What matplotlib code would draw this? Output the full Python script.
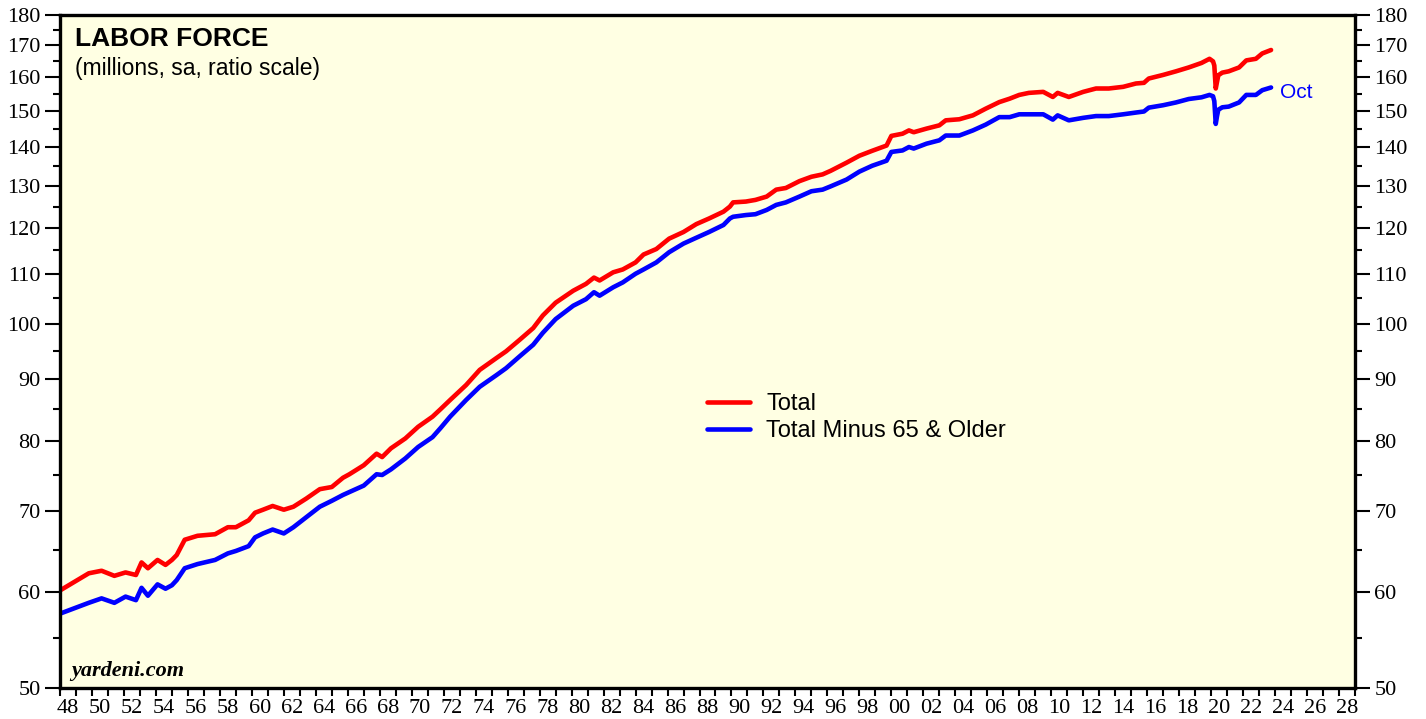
import matplotlib
matplotlib.use("Agg")
import matplotlib.pyplot as plt
from matplotlib.ticker import NullFormatter, FixedLocator

# ---- data ----
dates = [1948.0, 1949.8, 1950.6, 1951.4, 1952.1, 1952.75, 1953.1, 1953.5, 1954.1, 1954.6,
         1955.0, 1955.3, 1955.8, 1956.6, 1957.7, 1958.5, 1959.0, 1959.8, 1960.2, 1960.7,
         1961.3, 1962.0, 1962.6, 1963.4, 1964.25, 1965.0, 1965.7, 1966.1, 1967.0, 1967.8,
         1968.15, 1968.7, 1969.6, 1970.4, 1971.3, 1971.8, 1972.4, 1973.4, 1974.25, 1975.3,
         1975.9, 1976.75, 1977.6, 1978.2, 1979.0, 1980.1, 1980.9, 1981.4, 1981.75, 1982.6,
         1983.2, 1984.0, 1984.5, 1985.3, 1986.1, 1987.0, 1987.8, 1988.6, 1989.5, 1989.9,
         1990.1, 1990.9, 1991.5, 1992.2, 1992.8, 1993.4, 1994.25, 1995.0, 1995.7, 1996.2,
         1997.2, 1998.0, 1998.8, 1999.7, 2000.0, 2000.7, 2001.1, 2001.4, 2002.2, 2003.0,
         2003.4, 2004.25, 2005.1, 2005.9, 2006.75, 2007.4, 2008.0, 2008.6, 2009.5, 2010.1,
         2010.4, 2011.1, 2012.0, 2012.8, 2013.6, 2014.5, 2015.3, 2015.8, 2016.1, 2017.0,
         2017.8, 2018.6, 2019.4, 2019.9, 2020.12, 2020.2, 2020.29, 2020.37, 2020.45, 2020.7,
         2021.1, 2021.75, 2022.2, 2022.8, 2023.2, 2023.75]

total = [60.2, 62.2, 62.5, 61.9, 62.3, 62.0, 63.5, 62.8, 63.8, 63.2,
         63.8, 64.4, 66.3, 66.8, 67.0, 67.9, 67.9, 68.8, 69.8, 70.2,
         70.7, 70.2, 70.6, 71.7, 73.0, 73.3, 74.6, 75.1, 76.4, 78.1,
         77.6, 78.9, 80.4, 82.2, 83.8, 85.0, 86.5, 89.0, 91.6, 93.7,
         94.9, 97.0, 99.2, 101.6, 104.1, 106.5, 107.9, 109.2, 108.6, 110.3,
         110.9, 112.4, 114.1, 115.3, 117.6, 119.1, 120.9, 122.2, 123.8, 125.0,
         126.0, 126.2, 126.6, 127.4, 129.1, 129.5, 131.2, 132.3, 132.9, 133.8,
         135.9, 137.7, 139.0, 140.4, 143.0, 143.6, 144.5, 144.0, 145.0, 145.9,
         147.3, 147.6, 148.7, 150.6, 152.5, 153.5, 154.6, 155.2, 155.5, 154.0,
         155.2, 154.0, 155.5, 156.5, 156.5, 157.0, 158.0, 158.2, 159.5, 160.6,
         161.7, 162.9, 164.3, 165.6, 164.8, 163.5, 156.5, 158.5, 160.5, 161.3,
         161.7, 162.9, 165.1, 165.6, 167.3, 168.4]

total_minus_65 = [57.6, 58.8, 59.3, 58.8, 59.5, 59.1, 60.5, 59.6, 60.9, 60.4,
                  60.8, 61.4, 62.8, 63.3, 63.8, 64.6, 64.9, 65.5, 66.6, 67.1,
                  67.6, 67.1, 67.9, 69.2, 70.6, 71.4, 72.2, 72.6, 73.5, 75.1,
                  75.0, 75.8, 77.4, 79.1, 80.6, 82.0, 83.8, 86.5, 88.7, 90.7,
                  91.9, 94.0, 96.1, 98.3, 100.9, 103.5, 104.8, 106.2, 105.5, 107.2,
                  108.2, 110.0, 110.9, 112.4, 114.6, 116.5, 117.8, 119.1, 120.7, 122.2,
                  122.6, 123.0, 123.2, 124.2, 125.4, 126.0, 127.4, 128.7, 129.1, 129.9,
                  131.6, 133.6, 135.1, 136.4, 138.7, 139.1, 140.0, 139.6, 140.9, 141.8,
                  143.1, 143.1, 144.5, 146.1, 148.2, 148.2, 149.0, 149.0, 149.0, 147.5,
                  148.7, 147.3, 148.0, 148.5, 148.5, 149.0, 149.5, 149.8, 150.9, 151.6,
                  152.4, 153.4, 153.9, 154.6, 154.2, 152.8, 146.3, 148.5, 150.3, 151.0,
                  151.2, 152.4, 154.6, 154.6, 156.0, 156.8]

series_labels = ["Total", "Total Minus 65 & Older"]
series_colors = ["#FF0000", "#0000FF"]

y_major = [50, 60, 70, 80, 90, 100, 110, 120, 130, 140, 150, 160, 170, 180]
y_minor = [55, 65, 75, 85, 95, 105, 115, 125, 135, 145, 155, 165, 175]
x_label_years = list(range(1948, 2029, 2))
x_tick_years = list(range(1948, 2030))

title = "LABOR FORCE"
subtitle = "(millions, sa, ratio scale)"
source = "yardeni.com"
last_label = "Oct"

# ---- figure ----
W, H = 1426, 719
fig = plt.figure(figsize=(W / 100, H / 100), dpi=100)
ax = fig.add_axes([60 / W, 31 / H, 1295 / W, 673 / H])
ax.set_facecolor("#FFFFE3")

ax.plot(dates, total, color=series_colors[0], lw=3.3, label=series_labels[0],
        solid_joinstyle="round", solid_capstyle="round")
ax.plot(dates, total_minus_65, color=series_colors[1], lw=3.3, label=series_labels[1],
        solid_joinstyle="round", solid_capstyle="round")

ax.set_yscale("log")
ax.set_ylim(50, 180)
ax.set_xlim(1948, 2029)

ax.yaxis.set_major_locator(FixedLocator(y_major))
ax.yaxis.set_minor_locator(FixedLocator(y_minor))
ax.set_yticklabels([str(v) for v in y_major])
ax.yaxis.set_minor_formatter(NullFormatter())

ax.set_xticks(x_tick_years)
ax.set_xticklabels([""] * len(x_tick_years))
ax.set_xticks([y + 0.5 for y in x_label_years], [f"{y % 100:02d}" for y in x_label_years], minor=True)

ax.tick_params(axis="y", which="major", length=11, width=1.5, direction="out",
               left=True, right=True, labelleft=True, labelright=True, pad=3, labelsize=16)
ax.tick_params(axis="y", which="minor", length=5, width=1.5, direction="out",
               left=True, right=True)
ax.tick_params(axis="x", which="major", length=5.5, width=1.5, direction="out",
               bottom=True, top=False)
ax.tick_params(axis="x", which="minor", length=0, pad=8, labelsize=16)
for lab in ax.get_xticklabels(minor=True) + ax.get_yticklabels():
    lab.set_fontfamily("Liberation Serif")
for lab in ax.yaxis.get_ticklabels(which="major"):
    lab.set_fontfamily("Liberation Serif")

for s in ax.spines.values():
    s.set_linewidth(2.4)
    s.set_color("black")

ax.text(15 / 1295, 1 - 12 / 673, title, transform=ax.transAxes, ha="left", va="top",
        fontsize=19, fontweight="bold", family="Liberation Sans")
ax.text(15 / 1295, 1 - 42 / 673, subtitle, transform=ax.transAxes, ha="left", va="top",
        fontsize=16.5, family="Liberation Sans")
ax.text(11 / 1295, 7 / 673, source, transform=ax.transAxes, ha="left", va="bottom",
        fontsize=16, fontweight="bold", fontstyle="italic", family="Liberation Serif")

ax.annotate(last_label, xy=(dates[-1], total_minus_65[-1]), xytext=(6.5, -3.5),
            textcoords="offset points", ha="left", va="center",
            color=series_colors[1], fontsize=15, family="Liberation Sans")

leg = ax.legend(loc="upper left", bbox_to_anchor=(647 / 1295, 1 - 378 / 673),
                frameon=False, handlelength=1.8, handletextpad=0.7,
                labelspacing=0.22, borderpad=0, borderaxespad=0,
                prop=dict(family="Liberation Sans", size=17))

fig.savefig("out.png", dpi=100)
